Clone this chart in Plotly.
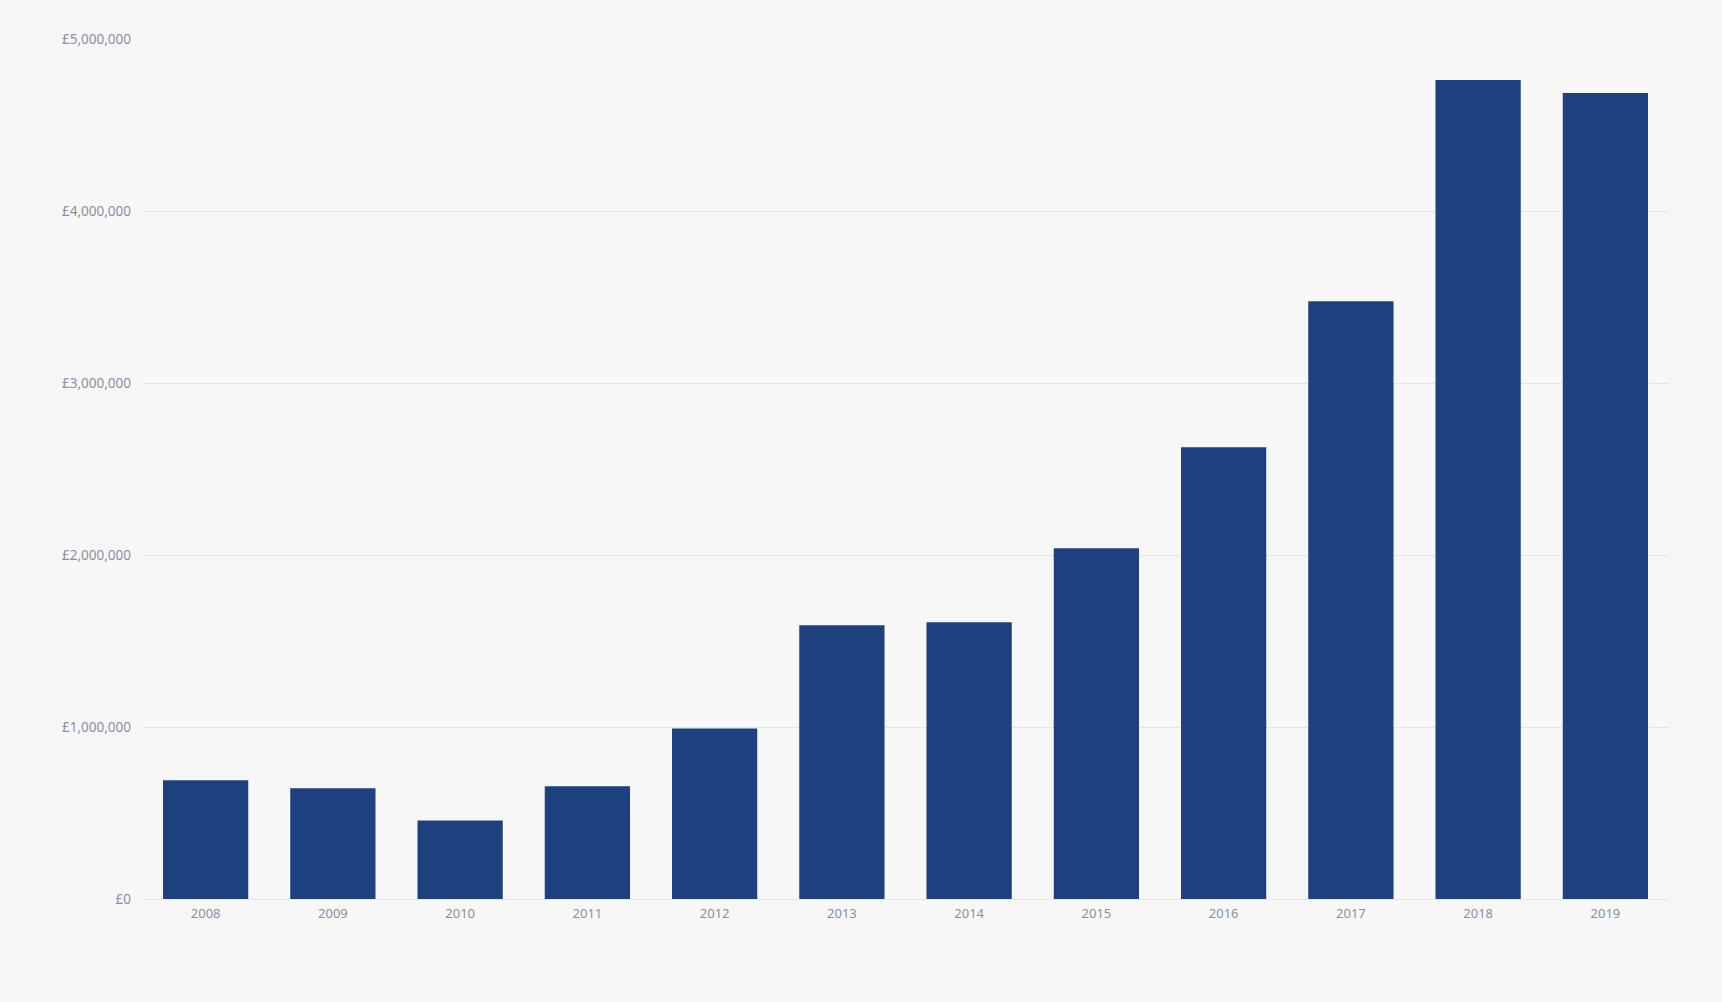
import plotly.graph_objects as go

# Yearly totals (GBP)
years = ['2008', '2009', '2010', '2011', '2012', '2013',
         '2014', '2015', '2016', '2017', '2018', '2019']
totals = [690000, 644000, 457000, 655000, 992000, 1591000,
          1609000, 2039000, 2626000, 3476000, 4762000, 4686000]

y_ticks = [0, 1000000, 2000000, 3000000, 4000000, 5000000]
y_tick_labels = ['£' + format(v, ',') for v in y_ticks]

fig = go.Figure()

fig.add_trace(go.Bar(
    x=years, y=totals,
    marker=dict(color='#1f407e', line=dict(width=0)),
    hovertemplate='%{x}: £%{y:,.0f}<extra></extra>',
))

fig.update_layout(
    width=1722, height=1002,
    paper_bgcolor='#f7f7f7', plot_bgcolor='#f7f7f7',
    margin=dict(l=142, r=53, t=39, b=103),
    bargap=0.33,
    showlegend=False,
    font=dict(family='Noto Sans, sans-serif', size=13, color='#8a8fa3'),
)

fig.update_xaxes(
    type='category', showgrid=False, showline=False, ticks='',
    ticklabelstandoff=5,
    tickfont=dict(size=13, color='#8a8fa3'),
)
fig.update_yaxes(
    range=[0, 5000000], tickmode='array', tickvals=y_ticks, ticktext=y_tick_labels,
    showgrid=True, gridcolor='#e6e6e6', gridwidth=1,
    zeroline=True, zerolinecolor='#e6e6e6', zerolinewidth=1,
    showline=False, ticks='', ticklabelstandoff=10,
    tickfont=dict(size=13.5, color='#8a8fa3'),
)

# drop the default page margin so the chart fills the window
fig.write_html('out.html', config={'displayModeBar': False},
               post_script="document.body.style.margin='0';")
